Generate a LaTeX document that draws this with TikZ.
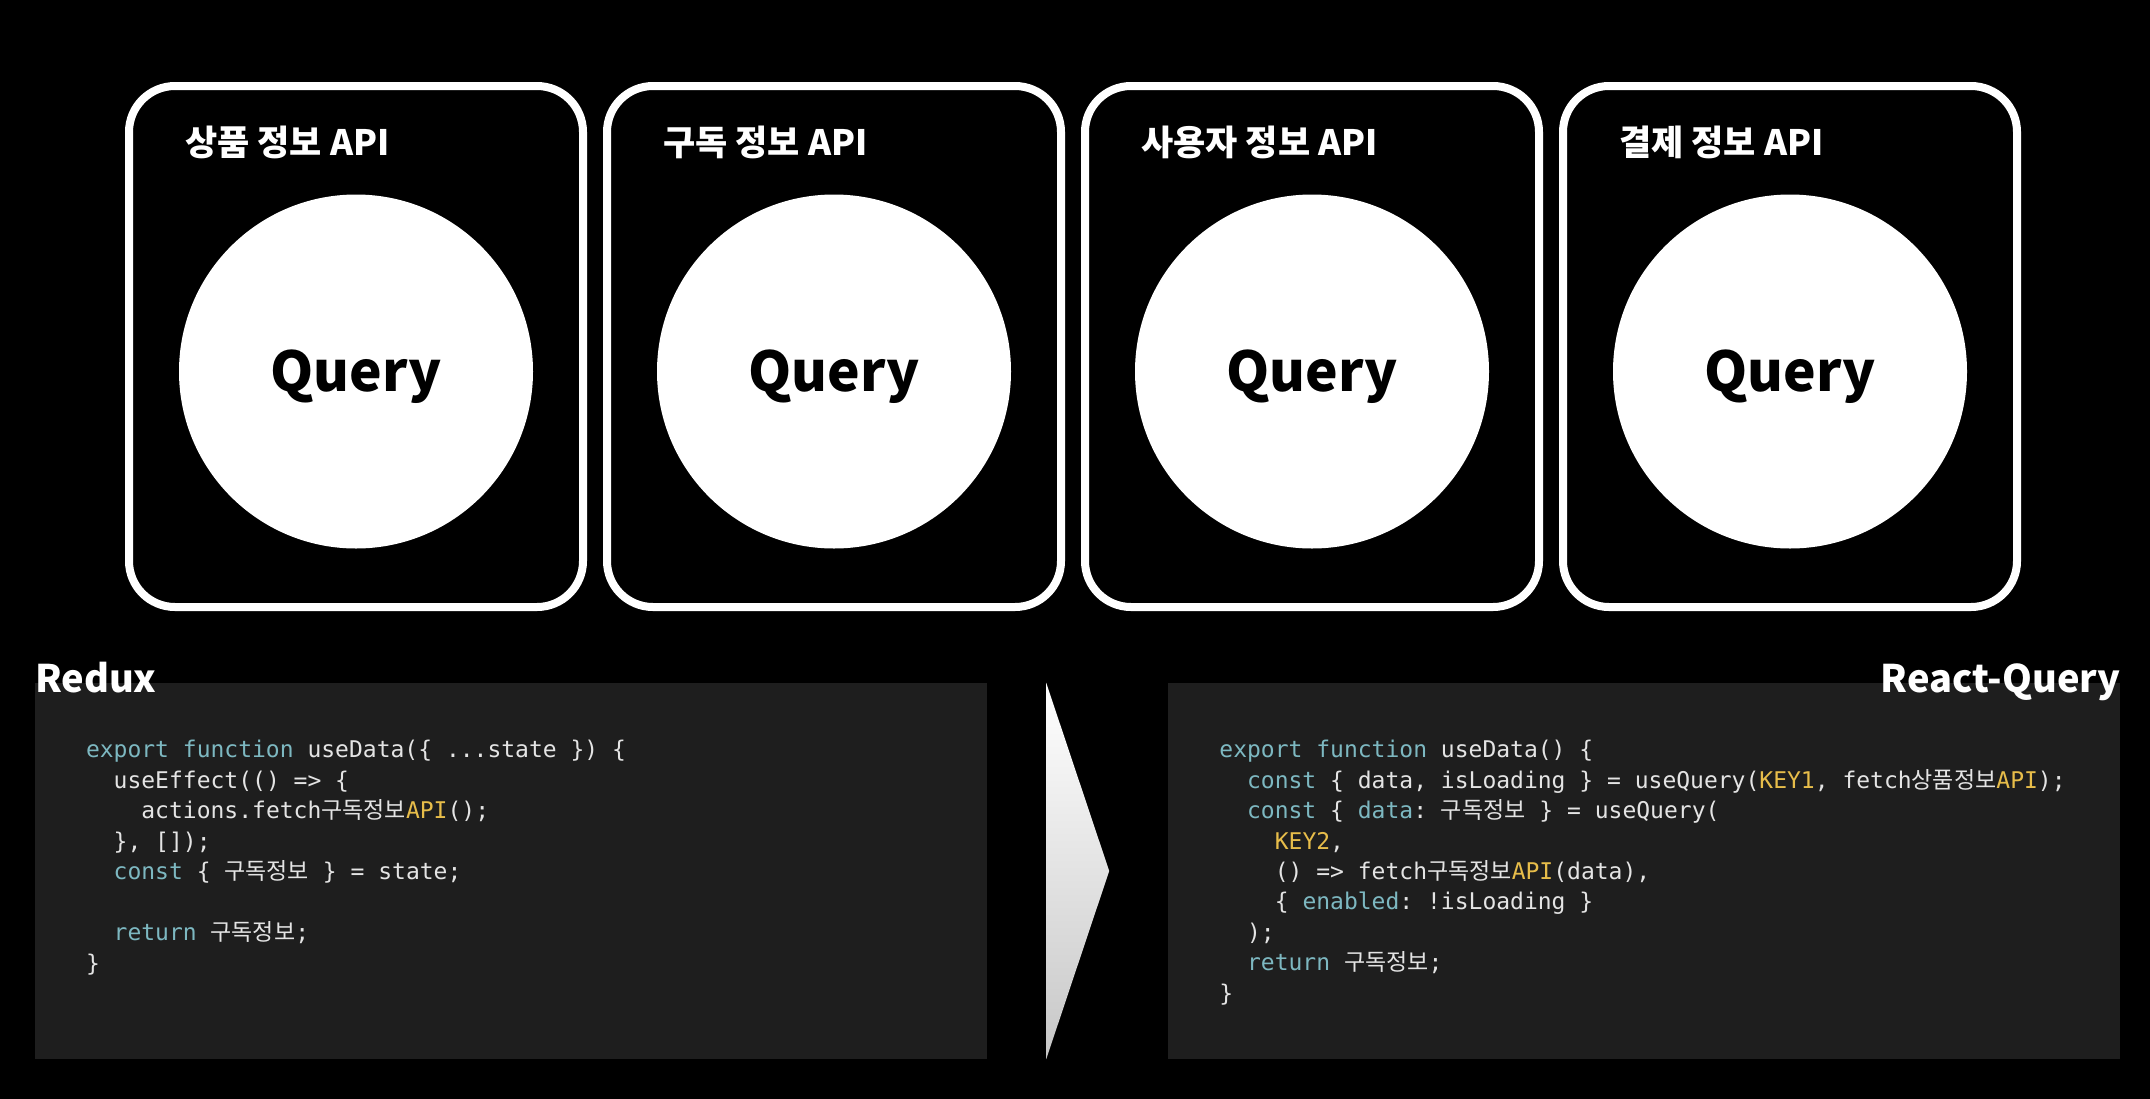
\documentclass[tikz,border=0pt]{standalone}
\usepackage{fontspec}
\setmainfont{Noto Sans CJK KR}
\setmonofont{DejaVu Sans Mono}
\newfontfamily\krcode{Noto Sans CJK KR}
\usetikzlibrary{positioning,calc}
\definecolor{bgPanel}{HTML}{1E1E1E}
\definecolor{codeText}{HTML}{E4E4E4}
\definecolor{codeKey}{HTML}{7DB8C1}
\definecolor{codeYel}{HTML}{E7BD4A}
\newcommand{\kw}[1]{\textcolor{codeKey}{#1}}
\newcommand{\ye}[1]{\textcolor{codeYel}{#1}}
\newcommand{\ko}[1]{{\krcode #1}}
\tikzset{
  apibox/.style={draw=white, line width=8pt, rounded corners=46pt, minimum width=454pt, minimum height=521pt, inner sep=0pt},
  qcircle/.style={circle, fill=white, minimum size=354pt, inner sep=0pt, text=black, text height=40pt, text depth=0pt, font=\fontsize{55}{60}\selectfont\bfseries},
  apititle/.style={anchor=base west, text=white, inner sep=0pt, font=\fontsize{35}{40}\selectfont\bfseries},
  panel/.style={fill=bgPanel, minimum width=952pt, minimum height=376pt, inner sep=0pt},
  tag/.style={text=white, inner sep=0pt, font=\fontsize{38}{40}\selectfont\bfseries},
  codeline/.style={anchor=base west, inner sep=0pt, text=codeText, font=\fontsize{23}{30}\selectfont\ttfamily\frenchspacing},
}
\begin{document}
\begin{tikzpicture}[x=1pt, y=-1pt]
  \useasboundingbox (0,0) rectangle (2150,1098);
  \fill[black] (-6,-6) rectangle (2156,1104);
  % API boxes
  \node[apibox] (b1) at (356,346.5) {};
  \node[apibox, right=16pt of b1] (b2) {};
  \node[apibox, right=16pt of b2] (b3) {};
  \node[apibox, right=16pt of b3] (b4) {};
  \foreach \bx/\ttl in {b1/상품 정보 API, b2/구독 정보 API, b3/사용자 정보 API, b4/결제 정보 API} {
    \node[apititle] (t-\bx) at ([xshift=60pt, yshift=-73pt]\bx.north west) {\ttl};
    \node[qcircle] (q-\bx) at ([yshift=-25pt]\bx.center) {Query};
  }
  % code panels
  \node[panel] (redux) at (511,871) {};
  \node[panel, right=181pt of redux] (rq) {};
  \node[tag, anchor=base west] (reduxtag) at ([yshift=-10pt]redux.north west) {Redux};
  \node[tag, anchor=base east] (rqtag) at ([yshift=-10pt]rq.north east) {React-Query};
  % arrow between
  \coordinate (arrtop) at ([xshift=59pt]redux.north east);
  \coordinate (arrbot) at ([xshift=59pt]redux.south east);
  \coordinate (arrtip) at ([xshift=122pt]redux.east);
  \shade[top color=white, bottom color=black!22] (arrtop) -- (arrtip) -- (arrbot) -- cycle;
  % Redux code
  \foreach \ind/\row/\txt in {
    0/0/{\kw{export function} useData(\{ ...state \}) \{},
    2/1/{useEffect(() => \{},
    4/2/{actions.fetch\ko{구독정보}\ye{API}();},
    2/3/{\}, []);},
    2/4/{\kw{const} \{ \ko{구독정보} \} = state;},
    2/6/{\kw{return} \ko{구독정보};},
    0/7/{\}}} {
    \node[codeline] (rx\row) at ($(redux.north west)+(51+13.85*\ind, 75+30.5*\row)$) {\txt};
  }
  % React-Query code
  \foreach \ind/\row/\txt in {
    0/0/{\kw{export function} useData() \{},
    2/1/{\kw{const} \{ data, isLoading \} = useQuery(\ye{KEY1}, fetch\ko{상품정보}\ye{API});},
    2/2/{\kw{const} \{ \kw{data}: \ko{구독정보} \} = useQuery(},
    4/3/{\ye{KEY2},},
    4/4/{() => fetch\ko{구독정보}\ye{API}(data),},
    4/5/{\{ \kw{enabled}: !isLoading \}},
    2/6/{);},
    2/7/{\kw{return} \ko{구독정보};},
    0/8/{\}}} {
    \node[codeline] (rc\row) at ($(rq.north west)+(51+13.85*\ind, 75+30.4*\row)$) {\txt};
  }
\end{tikzpicture}
\end{document}
